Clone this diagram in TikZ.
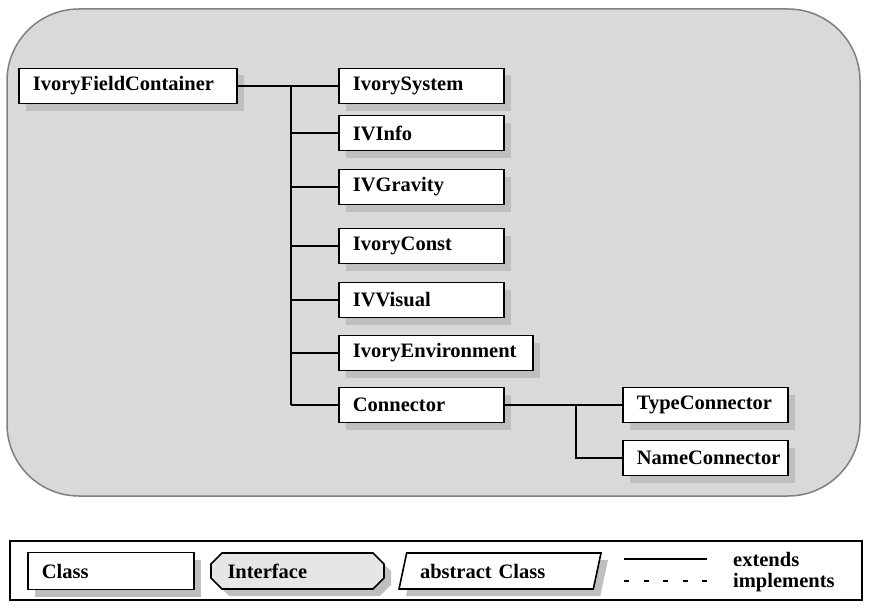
\documentclass[tikz,border=0pt]{standalone}
\usepackage{fontspec}
\setmainfont{Liberation Serif}
\usetikzlibrary{shadows,shapes.misc,shapes.geometric}

\definecolor{areagray}{HTML}{D9D9D9}
\definecolor{edgegray}{HTML}{7F7F7F}
\definecolor{shadegray}{HTML}{BFBFBF}
\definecolor{ifacegray}{HTML}{E6E6E6}

\begin{document}
\begin{tikzpicture}[x=1pt,y=-1pt,
    font=\fontsize{20.5}{24}\selectfont\bfseries,
    boxshadow/.style={drop shadow={shadow xshift=7pt,shadow yshift=-7pt,
        fill=shadegray,opacity=1}},
    cls/.style={
      draw,
      line width=1.8pt,
      fill=white,
      anchor=west,
      minimum height=35pt,
      text width=#1,
      align=left,
      inner xsep=14pt, % text starts a little in from the left side
      boxshadow},
    cls/.default=137pt,
    link/.style={line width=1.5pt},
    legtext/.style={anchor=base west,inner sep=0pt}]
  \useasboundingbox (0,0) rectangle (870,610);

  % the package area
  \draw[edgegray,fill=areagray,line width=1.5pt,rounded corners=72pt]
    (7,9) rectangle (860,496);

  \node[cls=190pt] (fieldcont) at (18,86) {IvoryFieldContainer};
  \node[cls] (system) at (338,86) {IvorySystem};
  \node[cls] (info) at (338,133) {IVInfo};
  \node[cls] (gravity) at (338,187) {IVGravity};
  \node[cls] (const) at (338,246) {IvoryConst};
  \node[cls] (visual) at (338,300) {IVVisual};
  \node[cls=166pt] (environment) at (338,353) {IvoryEnvironment};
  \node[cls] (connector) at (338,405) {Connector};
  \node[cls] (typeconn) at (622,405) {TypeConnector};
  \node[cls] (nameconn) at (622,458) {NameConnector};

  \coordinate (bustop) at (291,86);
  \coordinate (busbottom) at (291,405);
  \coordinate (subbus) at (576,405);

  \draw[link] (fieldcont.east) -- (system.west);
  \draw[link] (bustop) -- (busbottom);
  \foreach \n in {info,gravity,const,visual,environment,connector}
    \draw[link] (\n.west -| bustop) -- (\n.west);
  \draw[link] (connector.east) -- (typeconn.west);
  \draw[link] (subbus) |- (nameconn.west);

  % legend
  \draw[line width=1.8pt] (10,541) rectangle (862,600);
  \node[cls=138pt,minimum height=37pt] (legclass) at (27,571) {Class};
  \node[draw,line width=1.6pt,fill=ifacegray,chamfered rectangle,
    chamfered rectangle angle=45,chamfered rectangle xsep=8pt,
    minimum height=36pt,minimum width=173pt,text width=140pt,align=left,
    boxshadow] (legiface) at (297.5,571) {Interface};
  \node[draw,line width=1.6pt,fill=white,trapezium,
    trapezium left angle=70,trapezium right angle=110,
    trapezium stretches body,minimum height=36pt,minimum width=202pt,
    text width=160pt,inner xsep=7pt,align=left,
    boxshadow] (legabstract) at (500,571) {abstract Class};

  \coordinate (solidA) at (624,559);
  \coordinate (solidB) at (707,559);
  \coordinate (dashA) at (624,581);
  \coordinate (dashB) at (707,581);
  \draw[link] (solidA) -- (solidB);
  \draw[link,dash pattern=on 5pt off 14.5pt] (dashA) -- (dashB);
  \node[legtext] (extends) at (733,566) {extends};
  \node[legtext] (implements) at (733,587) {implements};
\end{tikzpicture}
\end{document}
